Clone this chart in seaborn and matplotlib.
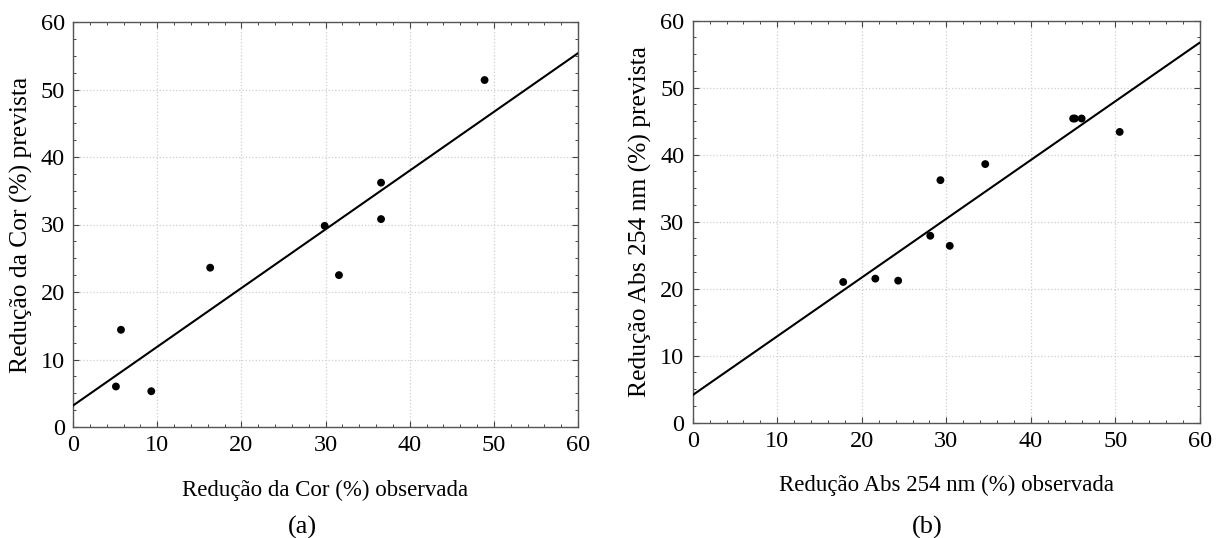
import matplotlib
matplotlib.use("Agg")
import matplotlib.pyplot as plt
import seaborn as sns
import numpy as np
import pandas as pd
from matplotlib.ticker import MultipleLocator

# Panel (a): Redução da Cor
cor_observada = [5.1, 5.7, 9.3, 16.3, 29.9, 31.6, 36.6, 36.6, 48.9]
cor_prevista = [6.0, 14.4, 5.3, 23.6, 29.8, 22.5, 36.2, 30.8, 51.4]

# Panel (b): Redução Abs 254 nm
abs_observada = [17.8, 21.6, 24.3, 28.1, 29.3, 30.4, 34.6, 45.0, 45.2, 46.0, 50.5]
abs_prevista = [21.0, 21.5, 21.2, 27.9, 36.2, 26.4, 38.6, 45.4, 45.4, 45.4, 43.4]

xlabels = ["Redução da Cor (%) observada", "Redução Abs 254 nm (%) observada"]
ylabels = ["Redução da Cor (%) prevista", "Redução Abs 254 nm (%) prevista"]
captions = ["(a)", "(b)"]
ticks = [0, 10, 20, 30, 40, 50, 60]

sns.set_theme(style="white")
plt.rcParams["font.family"] = ["Liberation Serif", "DejaVu Serif"]
plt.rcParams["mathtext.fontset"] = "stix"
plt.rcParams["text.color"] = "black"

fig = plt.figure(figsize=(12.25, 5.38), dpi=100)
W, H = 1225, 538
boxes = [(73, 578, 22, 427), (692.7, 1200, 20.7, 422.7)]
data = [(cor_observada, cor_prevista), (abs_observada, abs_prevista)]
cap_x = [302, 927]
ylab_x = [33, 652]
xlab_top = [480, 475]

for i in range(2):
    l, r, t, b = boxes[i]
    ax = fig.add_axes([l / W, 1 - b / H, (r - l) / W, (b - t) / H])
    ax.set_xlim(0, 60)
    ax.set_ylim(0, 60)
    df = pd.DataFrame({"obs": data[i][0], "prev": data[i][1]})
    sns.regplot(data=df, x="obs", y="prev", ax=ax, ci=None, truncate=False,
                scatter_kws=dict(s=32, color="black", edgecolor="none",
                                 alpha=1, zorder=4),
                line_kws=dict(color="black", lw=1.5, zorder=3))
    ax.set_xlim(0, 60)
    ax.set_ylim(0, 60)
    ax.set_xticks(ticks)
    ax.set_yticks(ticks)
    ax.xaxis.set_minor_locator(MultipleLocator(2))
    ax.yaxis.set_minor_locator(MultipleLocator(2.5))
    ax.tick_params(which="both", direction="in", top=True, right=True,
                   bottom=True, left=True, color="#444444")
    ax.tick_params(which="major", length=4, width=0.8, labelsize=17.5,
                   pad=6, labelcolor="black")
    ax.tick_params(which="minor", length=2.5, width=0.7)
    ax.grid(True, which="major", color="#cfcfcf", linestyle=":", lw=0.9)
    for s in ax.spines.values():
        s.set_color("#555555")
        s.set_linewidth(1.0)
    ax.set_xlabel(xlabels[i], fontsize=16.5, color="black")
    ax.set_ylabel(ylabels[i], fontsize=18.4, color="black")
    ax.xaxis.set_label_coords(0.5, (b - xlab_top[i]) / (b - t))
    ax.yaxis.set_label_coords((ylab_x[i] - l) / (r - l), 0.5)
    fig.text(cap_x[i] / W, 1 - 527 / H, captions[i], fontsize=19,
             ha="center", va="center", color="black")

fig.savefig("out.png", dpi=100)
